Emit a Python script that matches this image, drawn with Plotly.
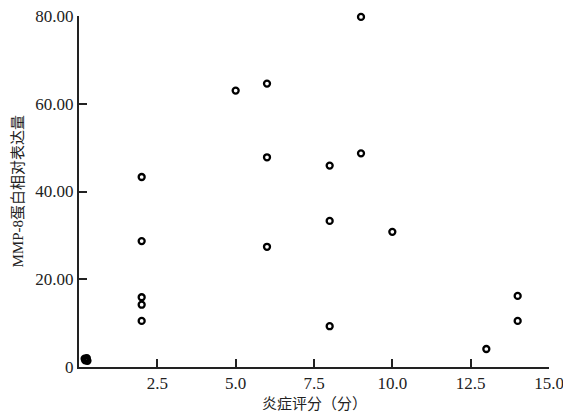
import plotly.graph_objects as go

# Data
inflammation_score = [0.2, 0.25, 0.22, 0.18, 0.27,
                      2, 2, 2, 2, 2,
                      5,
                      6, 6, 6,
                      8, 8, 8,
                      9, 9,
                      10,
                      13,
                      14, 14]
mmp8_expression = [1.5, 2.0, 1.7, 1.9, 1.4,
                   43.3, 28.7, 15.9, 14.2, 10.5,
                   63.0,
                   64.6, 47.8, 27.4,
                   45.9, 33.3, 9.3,
                   79.8, 48.7,
                   30.8,
                   4.1,
                   16.2, 10.5]

x_tickvals = [2.5, 5.0, 7.5, 10.0, 12.5, 15.0]
x_ticktext = ["2.5", "5.0", "7.5", "10.0", "12.5", "15.0"]
y_tickvals = [0, 20, 40, 60, 80]
y_ticktext = ["0", "20.00", "40.00", "60.00", "80.00"]

serif = "Liberation Serif, Times New Roman, Noto Sans CJK SC, serif"

fig = go.Figure()
fig.add_trace(go.Scatter(
    x=inflammation_score, y=mmp8_expression, mode="markers",
    marker=dict(symbol="circle-open", size=6, color="black",
                line=dict(color="black", width=2.3)),
    cliponaxis=False, showlegend=False,
))

fig.update_layout(
    width=563, height=416,
    margin=dict(l=79, r=14, t=16, b=49),
    paper_bgcolor="white", plot_bgcolor="white",
    font=dict(family=serif, size=17, color="#222"),
    xaxis=dict(range=[0, 15], tickvals=x_tickvals, ticktext=x_ticktext,
               ticks="inside", ticklen=8, tickwidth=2, tickcolor="#222",
               showline=True, linecolor="#222", linewidth=2,
               showgrid=False, zeroline=False, automargin=False,
               ticklabeloverflow="allow"),
    yaxis=dict(range=[0, 80], tickvals=y_tickvals, ticktext=y_ticktext,
               ticks="inside", ticklen=8, tickwidth=2, tickcolor="#222",
               showline=True, linecolor="#222", linewidth=2,
               showgrid=False, zeroline=False, automargin=False,
               ticklabeloverflow="allow"),
    annotations=[
        dict(text="炎症评分（分）", xref="paper", yref="paper",
             x=0.5, y=0, yshift=-35, yanchor="middle", showarrow=False,
             font=dict(family="Noto Sans CJK SC", size=15, color="#222")),
        dict(text="MMP-8蛋白相对表达量", xref="paper", yref="paper",
             x=0, xshift=-62, y=0.5, textangle=-90, xanchor="center",
             yanchor="middle", showarrow=False,
             font=dict(family="Liberation Serif, Noto Sans CJK SC", size=15, color="#222")),
    ],
)

fig.write_html("out.html", config={"displayModeBar": False},
               post_script="document.body.style.margin='0';document.body.style.overflow='hidden';")
